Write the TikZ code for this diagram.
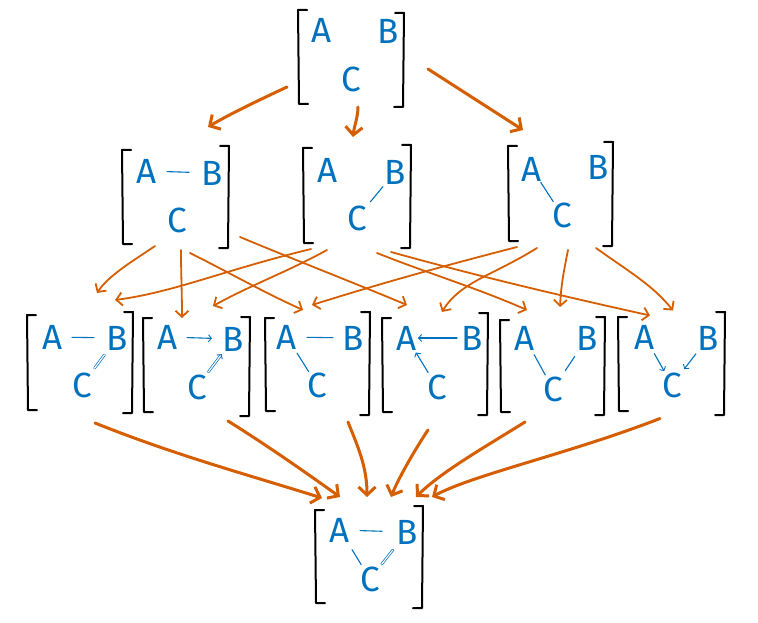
\documentclass[tikz,border=0pt]{standalone}
\usepackage{fontspec}
\setsansfont{Fira Sans}
\usetikzlibrary{arrows.meta,calc,fit}
\definecolor{lblue}{RGB}{0,114,189}
\definecolor{vorange}{RGB}{213,94,0}
\tikzset{
  letter/.style={text=lblue, font=\sffamily\fontsize{35}{35}\selectfont, inner sep=0pt},
  brk/.style={line width=2pt, black, line join=round, line cap=round},
  inedge/.style={lblue, line width=1.1pt, line cap=round},
  indbl/.style={double=white, double distance=1.2pt, line width=0.7pt},
  intip/.style={-{Straight Barb[length=3pt,width=7pt,line width=0.9pt]}},
  bigarr/.style={vorange, line width=3pt, line cap=round, -{Straight Barb[length=8pt,width=17pt,line width=3pt]}},
  smallarr/.style={vorange, line width=1.8pt, line cap=round, -{Straight Barb[length=6pt,width=13pt,line width=1.8pt]}},
  boxnode/.style={inner sep=0pt, draw=none}
}
% name, lx, lt, lb, rx, rt, rb
\newcommand\mkbox[7]{%
  \draw[brk] (#2+9,#3) -- (#2,#3) -- (#2+1,#4) -- (#2+10,#4);
  \draw[brk] (#5-9,#6) -- (#5,#6) -- (#5-1,#7) -- (#5-10,#7);
  \node[boxnode, fit={(#2,#3) (#5,#7)}] (#1) {};
}
% name, A pos, B pos, C pos
\newcommand\mklet[4]{%
  \node[letter] (#1-A) at (#2) {A};
  \node[letter] (#1-B) at (#3) {B};
  \node[letter] (#1-C) at (#4) {C};
}
\newcommand\iedge[5][]{\draw[inedge,#1,shorten <=#4pt,shorten >=#5pt] (#2.center) -- (#3.center);}
\newcommand\rel[3]{($(#1.center)+(#2,#3)$)}
\begin{document}
\begin{tikzpicture}[x=1pt,y=-1pt]
\useasboundingbox (0,0) rectangle (758,623);

% boxes
\mkbox{T}{298}{10}{104}{404}{13}{107}
\mklet{T}{322,30}{388,31}{351,79}

\mkbox{L}{122}{150}{244}{229}{146}{248}
\mklet{L}{147,171}{212,173}{177,220}
\mkbox{M}{303}{148}{243}{411}{145}{248}
\mklet{M}{328,170}{395,172}{357,218}
\mkbox{R}{508}{146}{241}{613}{142}{246}
\mklet{R}{532,169}{598,167}{562,215}

\mkbox{b1}{27}{315}{410}{133}{312}{413}
\mklet{b1}{53,337}{117,338}{82,385}
\mkbox{b2}{143}{318}{412}{250}{317}{416}
\mklet{b2}{168,337}{233,339}{197,387}
\mkbox{b3}{265}{318}{411}{370}{312}{415}
\mklet{b3}{287,337}{353,338}{317,385}
\mkbox{b4}{382}{318}{412}{488}{313}{415}
\mklet{b4}{407,338}{472,338}{437,387}
\mkbox{b5}{500}{320}{412}{605}{317}{415}
\mklet{b5}{525,338}{587,338}{553,389}
\mkbox{b6}{618}{317}{411}{725}{312}{415}
\mklet{b6}{645,337}{708,338}{672,385}

\mkbox{Bo}{315}{510}{603}{423}{506}{608}
\mklet{Bo}{340,530}{407,532}{370,579}

% inner edges
\iedge{L-A}{L-B}{20}{23}
\iedge{M-B}{M-C}{19}{21}
\iedge{R-A}{R-C}{16}{16}

\iedge{b1-A}{b1-B}{19}{23}
\iedge[indbl]{b1-B}{b1-C}{21}{21}
\iedge[intip]{b2-A}{b2-B}{19}{21}
\iedge[intip,indbl]{b2-C}{b2-B}{19}{19}
\iedge{b3-A}{b3-B}{20}{20}
\iedge{b3-A}{b3-C}{19}{16}
\iedge[intip]{b4-B}{b4-A}{15}{11}
\iedge[intip]{b4-C}{b4-A}{17}{17}
\iedge{b5-A}{b5-C}{19}{16}
\iedge{b5-B}{b5-C}{22}{22}
\iedge[intip]{b6-A}{b6-C}{19}{16}
\iedge[intip]{b6-B}{b6-C}{20}{20}

\iedge{Bo-A}{Bo-B}{20}{25}
\iedge{Bo-A}{Bo-C}{23}{17}
\iedge[indbl]{Bo-B}{Bo-C}{23}{19}

% top arrows
\draw[bigarr] \rel{T}{-64}{28.5} .. controls +(-30,14) and +(20,-12) .. \rel{L}{32.5}{-72};
\draw[bigarr] \rel{T}{7}{48.5} .. controls +(0,10) and +(1,-10) .. \rel{M}{-4}{-61};
\draw[bigarr] \rel{T}{77}{10.5} -- \rel{R}{-37.5}{-66};

% middle arrows
\draw[smallarr] \rel{L}{-20.5}{47} .. controls +(-22,15) and +(12,-18) .. \rel{b1}{17}{-71};
\draw[smallarr] \rel{L}{5.5}{51} .. controls +(0,25) and +(0,-25) .. \rel{b2}{-14.5}{-49};
\draw[smallarr] \rel{L}{14.5}{54} .. controls +(40,20) and +(-40,-18) .. \rel{b3}{-14.5}{-56.5};
\draw[smallarr] \rel{L}{64.5}{38} .. controls +(60,25) and +(-60,-25) .. \rel{b4}{-28}{-61.5};

\draw[smallarr] \rel{M}{-46}{51} .. controls +(-90,22) and +(60,-8) .. \rel{b1}{35}{-64};
\draw[smallarr] \rel{M}{-30}{52} .. controls +(-40,22) and +(40,-22) .. \rel{b2}{16.5}{-61};
\draw[smallarr] \rel{M}{20}{55} .. controls +(50,20) and +(-50,-22) .. \rel{b5}{-25.5}{-57.5};
\draw[smallarr] \rel{M}{34}{54} .. controls +(90,25) and +(-90,-20) .. \rel{b6}{-21.5}{-50.5};

\draw[smallarr] \rel{R}{-43.5}{51} .. controls +(-70,18) and +(70,-22) .. \rel{b3}{-5.5}{-61.5};
\draw[smallarr] \rel{R}{-23.5}{52} .. controls +(-45,28) and +(18,-30) .. \rel{b4}{7}{-54.5};
\draw[smallarr] \rel{R}{7.5}{54} .. controls +(-5,25) and +(1,-20) .. \rel{b5}{7.5}{-60.5};
\draw[smallarr] \rel{R}{35.5}{52} .. controls +(35,25) and +(-20,-25) .. \rel{b6}{1.5}{-55.5};

% bottom arrows
\draw[bigarr] \rel{b1}{15}{59} .. controls +(80,32) and +(-80,-25) .. \rel{Bo}{-47}{-61};
\draw[bigarr] \rel{b2}{31.5}{54} .. controls +(40,25) and +(-35,-25) .. \rel{Bo}{-29}{-62};
\draw[bigarr] \rel{b3}{30.5}{55.5} .. controls +(10,25) and +(0,-30) .. \rel{Bo}{-2}{-62};
\draw[bigarr] \rel{b4}{-7}{63.5} .. controls +(-12,18) and +(8,-20) .. \rel{Bo}{22}{-62};
\draw[bigarr] \rel{b5}{-27.5}{54.5} .. controls +(-40,25) and +(25,-25) .. \rel{Bo}{47}{-62};
\draw[bigarr] \rel{b6}{-11.5}{52.5} .. controls +(-90,35) and +(40,-22) .. \rel{Bo}{63}{-62};
\end{tikzpicture}
\end{document}
